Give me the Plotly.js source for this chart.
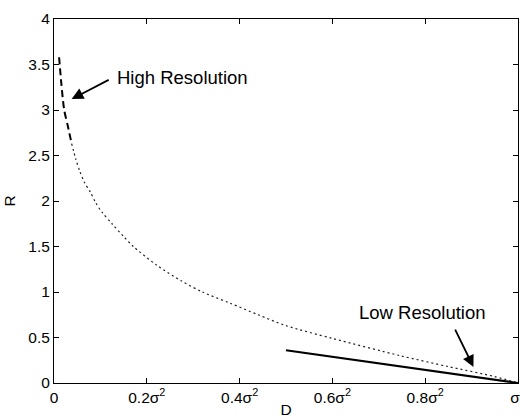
<!DOCTYPE html>
<html>
<head>
<meta charset="utf-8">
<script src="https://cdn.plot.ly/plotly-3.0.1.min.js"></script>
<style>html,body{margin:0;padding:0;background:#fff;overflow:hidden;}#chart{width:520px;height:418px;}</style>
</head>
<body>
<div id="chart"></div>
<script>
// High-resolution (dashed) segment
const hiD = [0.011, 0.016, 0.022, 0.030, 0.038];
const hiR = [3.58, 3.28, 3.00, 2.82, 2.63];
// Rate-distortion curve (dotted)
const midD = [0.038, 0.047, 0.056, 0.066, 0.078, 0.09, 0.103, 0.125, 0.15, 0.171, 0.22, 0.275, 0.32, 0.38, 0.44, 0.5, 0.6, 0.746, 0.85, 0.95, 1.0];
const midR = [2.63, 2.46, 2.32, 2.20, 2.10, 1.98, 1.88, 1.75, 1.61, 1.50, 1.30, 1.12, 1.00, 0.876, 0.75, 0.63, 0.49, 0.30, 0.18, 0.07, 0.0];
// Low-resolution (solid) segment
const lowD = [0.5, 1.0];
const lowR = [0.36, 0.0];
// Ticks
const xTickVals = [0, 0.2, 0.4, 0.6, 0.8, 1];
const xTickText = ['0', '0.2σ<sup>2</sup>', '0.4σ<sup>2</sup>', '0.6σ<sup>2</sup>', '0.8σ<sup>2</sup>', 'σ<sup>2</sup>'];
const yTickVals = [0, 0.5, 1, 1.5, 2, 2.5, 3, 3.5, 4];
const yTickText = ['0', '0.5', '1', '1.5', '2', '2.5', '3', '3.5', '4'];

const font = 'Liberation Sans, Arial, Helvetica, sans-serif';

const traces = [
  {x: midD, y: midR, mode: 'lines', line: {color: '#222', width: 1.2, dash: '2px,3px', shape: 'spline', smoothing: 0.8}, hoverinfo: 'skip'},
  {x: hiD, y: hiR, mode: 'lines', line: {color: '#000', width: 2, dash: '7px,4px', shape: 'spline', smoothing: 0.8}, hoverinfo: 'skip'},
  {x: lowD, y: lowR, mode: 'lines', line: {color: '#000', width: 2}, hoverinfo: 'skip'}
];

const layout = {
  width: 520, height: 418,
  margin: {l: 54, r: 2, t: 19, b: 35},
  paper_bgcolor: '#fff', plot_bgcolor: '#fff',
  showlegend: false,
  font: {family: font, size: 15, color: '#000'},
  xaxis: {
    range: [0, 1], tickvals: xTickVals, ticktext: xTickText,
    ticks: 'inside', ticklen: 5, tickwidth: 1, tickcolor: '#000',
    showline: true, linecolor: '#000', linewidth: 1, mirror: 'ticks',
    showgrid: false, zeroline: false, automargin: false,
    ticklabeloverflow: 'allow',
    tickfont: {family: font, size: 15.5},
    title: {text: 'D', font: {family: font, size: 15.5}, standoff: 0}
  },
  yaxis: {
    range: [0, 4], tickvals: yTickVals, ticktext: yTickText,
    ticks: 'inside', ticklen: 5, tickwidth: 1, tickcolor: '#000',
    showline: true, linecolor: '#000', linewidth: 1, mirror: 'ticks',
    showgrid: false, zeroline: false, automargin: false,
    ticklabeloverflow: 'allow',
    tickfont: {family: font, size: 15.5},
    title: {text: 'R', font: {family: font, size: 15.5}, standoff: 8}
  },
  annotations: [
    {x: 0.278, y: 3.36, xref: 'x', yref: 'y', text: 'High Resolution', showarrow: false, font: {family: font, size: 18.5}},
    {x: 0.038, y: 3.12, xref: 'x', yref: 'y', ax: 0.121, ay: 3.34, axref: 'x', ayref: 'y', text: '', showarrow: true, arrowhead: 2, arrowsize: 1.3, arrowwidth: 1.8, arrowcolor: '#000'},
    {x: 0.794, y: 0.77, xref: 'x', yref: 'y', text: 'Low Resolution', showarrow: false, font: {family: font, size: 18.5}},
    {x: 0.904, y: 0.176, xref: 'x', yref: 'y', ax: 0.863, ay: 0.604, axref: 'x', ayref: 'y', text: '', showarrow: true, arrowhead: 2, arrowsize: 1.3, arrowwidth: 1.8, arrowcolor: '#000'}
  ]
};

Plotly.newPlot('chart', traces, layout, {displayModeBar: false, staticPlot: true});
</script>
</body>
</html>
